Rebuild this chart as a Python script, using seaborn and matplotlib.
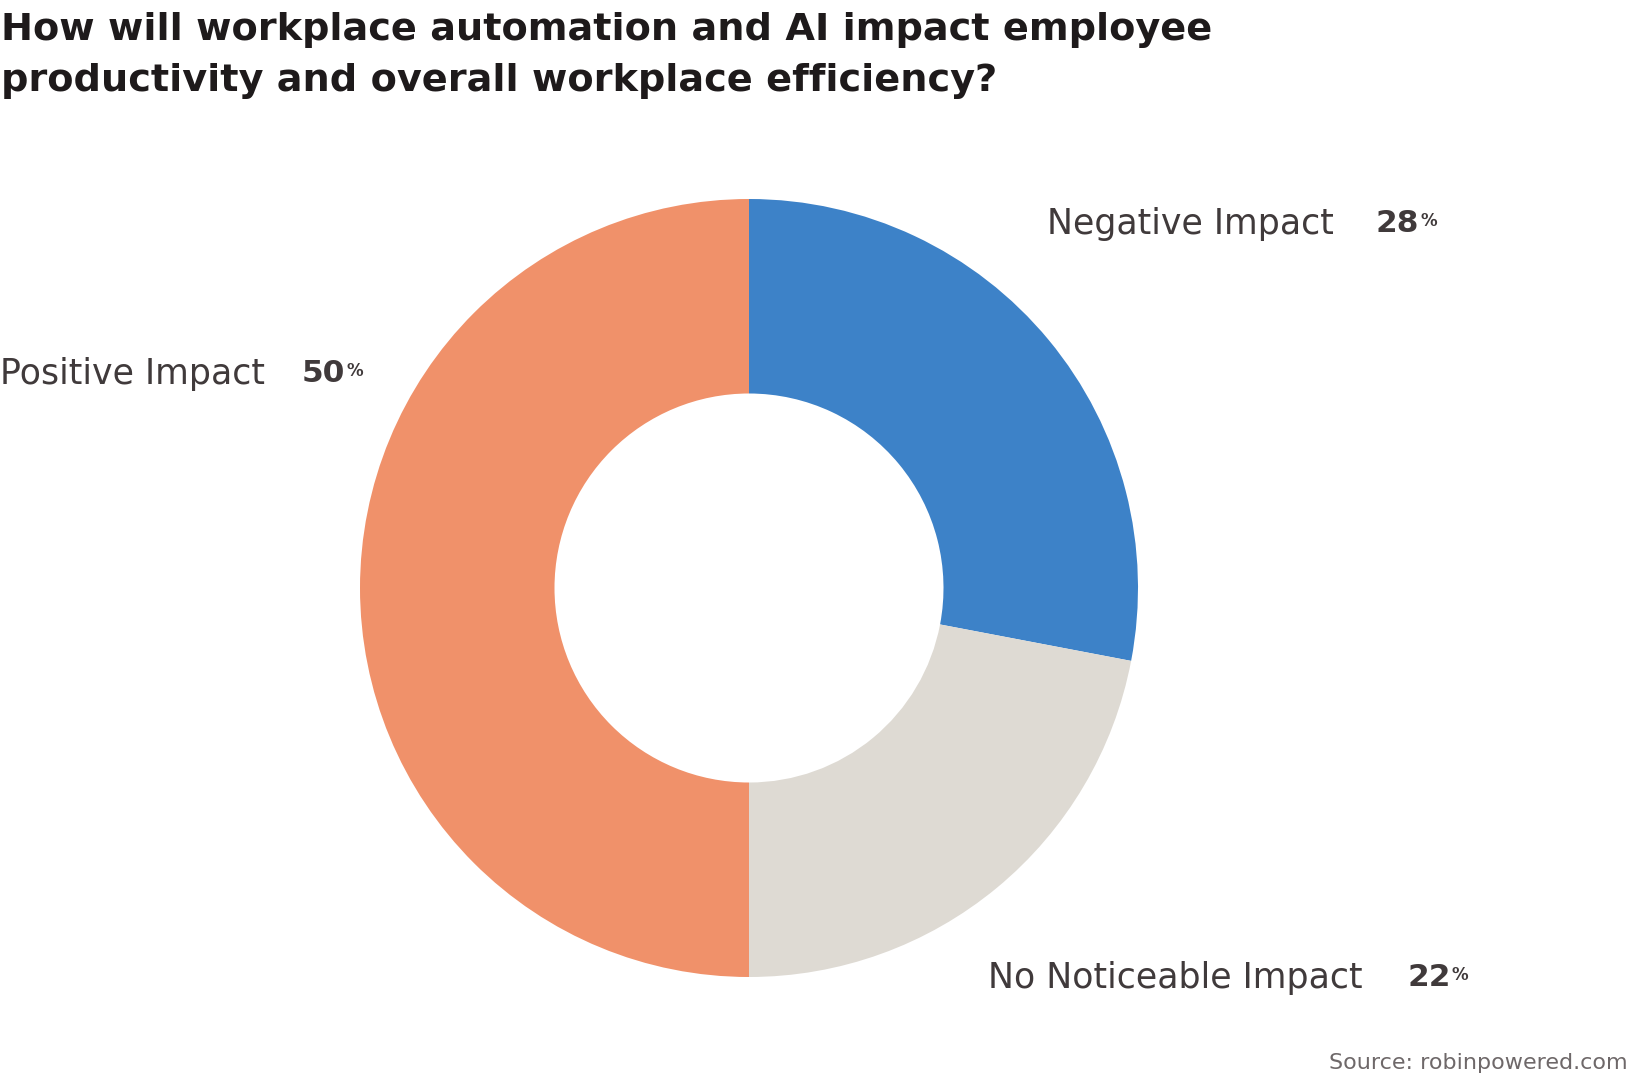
import matplotlib
matplotlib.use("Agg")
import matplotlib.pyplot as plt
import seaborn as sns

# data
categories = ["Negative Impact", "No Noticeable Impact", "Positive Impact"]
shares = [28, 22, 50]
colors = ["#3D82C8", "#DEDAD3", "#F0916A"]

title = ("How will workplace automation and AI impact employee\n"
         "productivity and overall workplace efficiency?")
source = "Source: robinpowered.com"

sns.set_theme(style="white")
plt.rcParams["font.family"] = ["DejaVu Sans"]

W, H = 1630, 1080
fig = plt.figure(figsize=(W / 100, H / 100), dpi=100)
fig.patch.set_facecolor("white")

# donut: centre (749, 588) px, outer radius 389 px
cx, cy, r = 749, 588, 389
ax = fig.add_axes([(cx - r) / W, (H - cy - r) / H, 2 * r / W, 2 * r / H])
ax.pie(shares, colors=colors, startangle=90, counterclock=False,
       radius=1, wedgeprops=dict(width=0.5, linewidth=0))
ax.set_xlim(-1, 1)
ax.set_ylim(-1, 1)
ax.set_aspect("equal")
ax.axis("off")

txt = "#403A3B"


def px(x, y):
    return x / W, 1 - y / H


fig.text(*px(1, 12), title, ha="left", va="top", fontsize=27.5,
         fontweight="bold", color="#1E1A1B", linespacing=1.52)

# label positions (px): label x, value x, centre y
label_pos = {
    "Negative Impact": (1047, 1376, 224),
    "No Noticeable Impact": (988, 1407, 978),
    "Positive Impact": (0, 302, 374),
}
for cat, val in zip(categories, shares):
    lx, vx, ly = label_pos[cat]
    fig.text(*px(lx, ly), cat, ha="left", va="center", fontsize=25,
             color=txt)
    t = fig.text(*px(vx, ly), f"{val}", ha="left", va="center",
                 fontsize=22.5, fontweight="bold", color=txt)
    fig.canvas.draw()
    bb = t.get_window_extent()
    fig.text((bb.x1 + 1) / W, (bb.y1 - 3) / H, "%", ha="left", va="top",
             fontsize=12, fontweight="bold", color=txt)

fig.text(*px(1628, 1063), source, ha="right", va="center", fontsize=16,
         color="#6E6869")

fig.savefig("out.png", dpi=100, facecolor="white")
